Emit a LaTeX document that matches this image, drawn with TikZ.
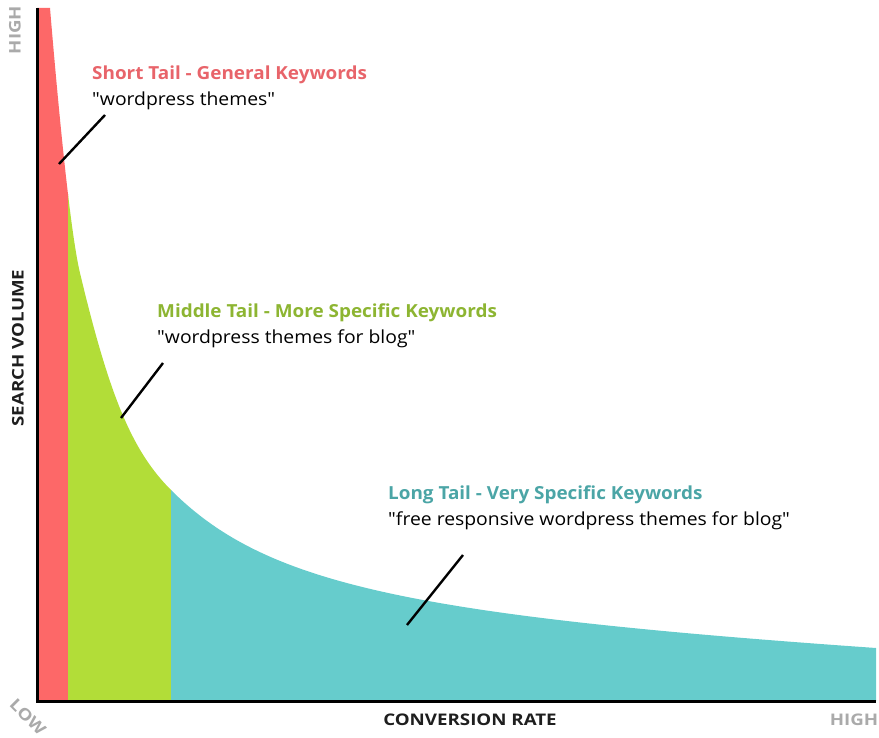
\documentclass[tikz,border=0pt]{standalone}
\usepackage{fontspec}
\usepackage{graphicx}
\setmainfont{Open Sans}
\definecolor{redband}{RGB}{253,104,104}
\definecolor{greenband}{RGB}{178,221,56}
\definecolor{tealband}{RGB}{102,204,204}
\definecolor{redtext}{RGB}{232,100,106}
\definecolor{greentext}{RGB}{141,181,50}
\definecolor{tealtext}{RGB}{75,165,166}
\definecolor{axisgrey}{RGB}{170,170,170}
\definecolor{axisdark}{RGB}{30,30,30}
\newcommand{\wideA}[1]{\scalebox{1.05}[1]{#1}}
\newcommand{\wideB}[1]{\scalebox{1.075}[1]{#1}}
\newcommand{\wideC}[1]{\scalebox{1.17}[1]{#1}}
\tikzset{
  head/.style={anchor=west, inner sep=0pt, font=\fontsize{18}{21}\selectfont\bfseries},
  quote/.style={anchor=west, inner sep=0pt, text=black, font=\fontsize{18}{21}\selectfont},
  axlab/.style={inner sep=0pt, text=axisdark, font=\fontsize{16}{19}\selectfont\bfseries},
  endlab/.style={inner sep=0pt, text=axisgrey, font=\fontsize{16}{19}\selectfont\bfseries},
  pointer/.style={line width=2.4pt, black},
}
\def\areapath{(37,701) -- (37,8) -- (50,8) .. controls (61.6,147) and (72.1,239.9) .. (80,273) .. controls (109.6,397) and (132.3,451.3) .. (171,490) .. controls (264.4,583.4) and (405.4,615) .. (876,648) -- (876,701) -- cycle}
\begin{document}
\begin{tikzpicture}[x=1pt,y=-1pt]
\useasboundingbox (0,0) rectangle (879,738);
% bands
\begin{scope}
  \clip (37,0) rectangle (68,701);
  \fill[redband] \areapath;
\end{scope}
\begin{scope}
  \clip (68,0) rectangle (171,701);
  \fill[greenband] \areapath;
\end{scope}
\begin{scope}
  \clip (171,0) rectangle (879,701);
  \fill[tealband] \areapath;
\end{scope}
% axes
\draw[line width=3pt, black] (37,8) -- (37,701) -- (876,701);
% labels
\node[head, text=redtext] (shorthead) at (92,75) {\wideA{Short Tail - General Keywords}};
\node[quote] (shortquote) at (92,101) {\wideB{\textquotedbl wordpress themes\textquotedbl}};
\node[head, text=greentext] (midhead) at (157,313) {\wideA{Middle Tail - More Specific Keywords}};
\node[quote] (midquote) at (157,339) {\wideB{\textquotedbl wordpress themes for blog\textquotedbl}};
\node[head, text=tealtext] (longhead) at (388,495) {\wideA{Long Tail - Very Specific Keywords}};
\node[quote] (longquote) at (388,521) {\wideB{\textquotedbl free responsive wordpress themes for blog\textquotedbl}};
% pointers
\coordinate (shortA) at (105,115);
\coordinate (shortB) at (59,164);
\coordinate (midA) at (163,363);
\coordinate (midB) at (121,418);
\coordinate (longA) at (463,555);
\coordinate (longB) at (407,625);
\draw[pointer] (shortA) -- (shortB);
\draw[pointer] (midA) -- (midB);
\draw[pointer] (longA) -- (longB);
% axis labels
\node[endlab, rotate=90] (yhigh) at (15,30) {\wideC{HIGH}};
\node[axlab, rotate=90] (yname) at (18,348) {\wideC{SEARCH VOLUME}};
\node[endlab, rotate=-45] (low) at (28,717) {\wideC{LOW}};
\node[axlab] (xname) at (470,720) {\wideC{CONVERSION RATE}};
\node[endlab] (xhigh) at (854,720) {\wideC{HIGH}};
\end{tikzpicture}
\end{document}
